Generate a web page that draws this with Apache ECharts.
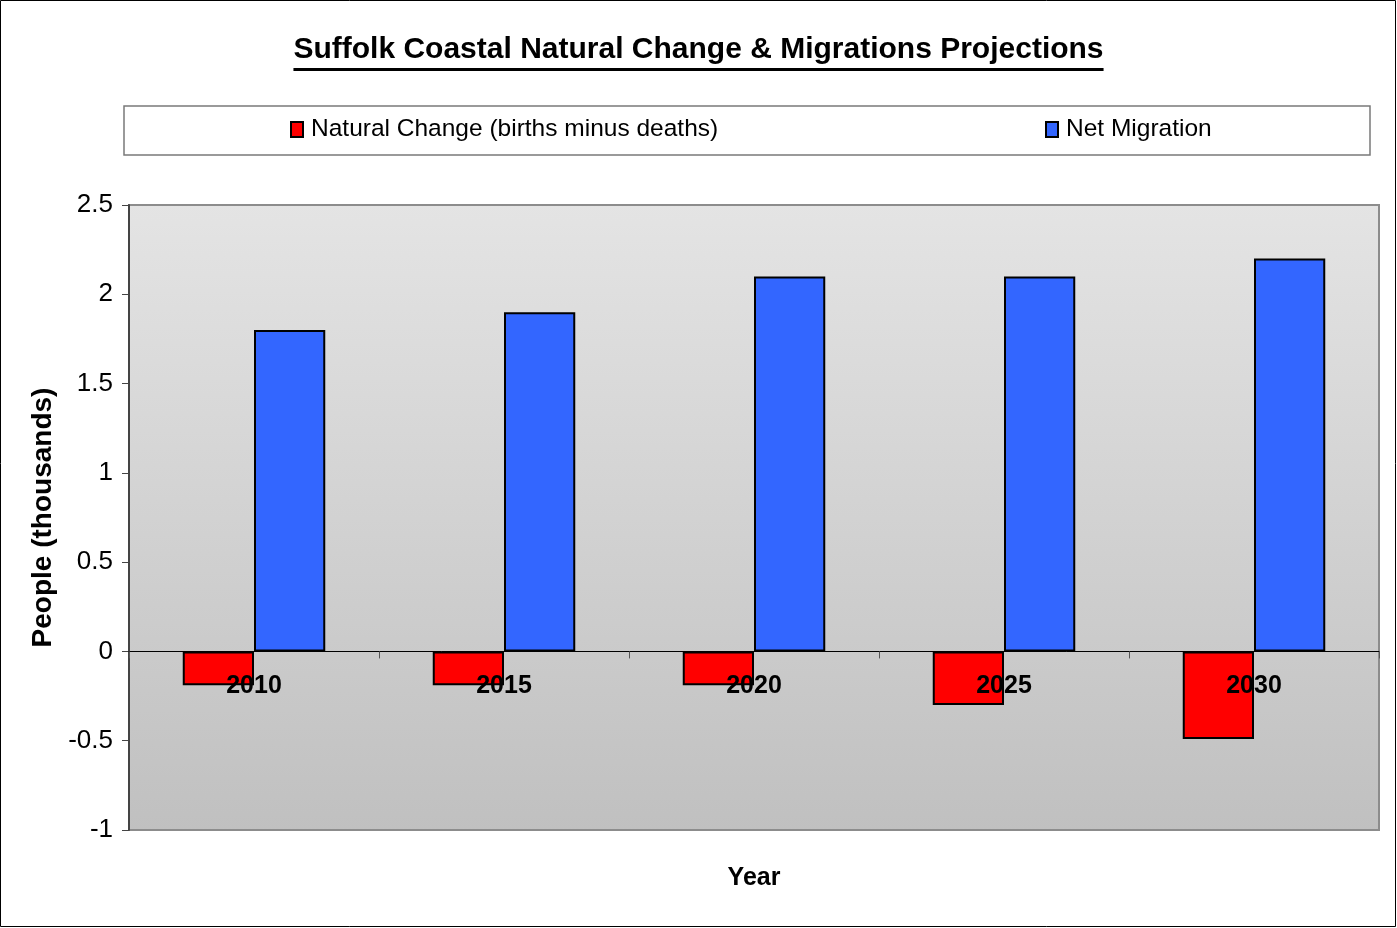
<!DOCTYPE html>
<html>
<head>
<meta charset="utf-8">
<title>Suffolk Coastal Natural Change & Migrations Projections</title>
<script src="https://cdn.jsdelivr.net/npm/echarts@6/dist/echarts.min.js"></script>
<style>
  html, body { margin: 0; padding: 0; background: #ffffff; }
  #chart { width: 1397px; height: 928px; }
</style>
</head>
<body>
<div id="chart"></div>
<script>
// Projection years and values (thousands of people)
const years = ['2010', '2015', '2020', '2025', '2030'];
const naturalChange = [-0.19, -0.19, -0.19, -0.3, -0.49];
const netMigration = [1.8, 1.9, 2.1, 2.1, 2.2];
const yTicks = { min: -1, max: 2.5, interval: 0.5 };

const titleText = 'Suffolk Coastal Natural Change & Migrations Projections';
const naturalName = 'Natural Change (births minus deaths)';
const migrationName = 'Net Migration';

const sans = '"Liberation Sans", Arial, sans-serif';

// width of the title, used for its underline
function textWidth(text, font) {
  const c = document.createElement('canvas').getContext('2d');
  c.font = font;
  return c.measureText(text).width;
}
const titleSize = 30;
const titleW = textWidth(titleText, 'bold ' + titleSize + 'px ' + sans);

const chart = echarts.init(document.getElementById('chart'), null, { renderer: 'canvas' });

chart.setOption({
  backgroundColor: '#ffffff',
  animation: false,
  title: {
    text: titleText,
    left: 'center',
    top: 35,
    padding: 0,
    textStyle: { fontFamily: sans, fontWeight: 'bold', fontSize: titleSize, color: '#000' }
  },
  legend: [
    {
      data: [naturalName],
      left: 290, top: 117, padding: 0,
      itemWidth: 12, itemHeight: 15,
      icon: 'rect',
      textStyle: { fontFamily: sans, fontSize: 24.5, color: '#000', padding: [0, 0, 0, 3] }
    },
    {
      data: [migrationName],
      left: 1045, top: 117, padding: 0,
      itemWidth: 12, itemHeight: 15,
      icon: 'rect',
      textStyle: { fontFamily: sans, fontSize: 24.5, color: '#000', padding: [0, 0, 0, 3] }
    }
  ],
  grid: {
    left: 129, right: 18, top: 205, bottom: 98,
    show: true,
    borderColor: '#8c8c8c',
    borderWidth: 2,
    backgroundColor: {
      type: 'linear', x: 0, y: 0, x2: 0, y2: 1,
      colorStops: [
        { offset: 0, color: '#e4e4e4' },
        { offset: 1, color: '#c0c0c0' }
      ]
    }
  },
  xAxis: {
    type: 'category',
    data: years,
    z: 5,
    axisLine: { onZero: true, lineStyle: { color: '#000', width: 1 } },
    axisTick: { show: true, length: 7, lineStyle: { color: '#555', width: 1 } },
    // labels sit just under the zero line, overlapping the negative bars
    axisLabel: {
      margin: -156,
      fontFamily: sans, fontWeight: 'bold', fontSize: 25, color: '#000'
    },
    splitLine: { show: false }
  },
  yAxis: {
    type: 'value',
    min: yTicks.min, max: yTicks.max, interval: yTicks.interval,
    name: 'People (thousands)',
    nameLocation: 'middle',
    nameRotate: 90,
    nameGap: 64,
    nameTextStyle: { fontFamily: sans, fontWeight: 'bold', fontSize: 28, color: '#000' },
    axisLine: { show: true, lineStyle: { color: '#444', width: 2 } },
    axisTick: { show: true, length: 7, lineStyle: { color: '#444', width: 1 } },
    axisLabel: { margin: 16, fontFamily: sans, fontSize: 26, color: '#000' },
    splitLine: { show: false }
  },
  series: [
    {
      name: naturalName,
      type: 'bar',
      data: naturalChange,
      barGap: '0%',
      barCategoryGap: '43%',
      itemStyle: { color: '#ff0000', borderColor: '#000', borderWidth: 2 }
    },
    {
      name: migrationName,
      type: 'bar',
      data: netMigration,
      barGap: '0%',
      barCategoryGap: '43%',
      itemStyle: { color: '#3366ff', borderColor: '#000', borderWidth: 2 }
    }
  ],
  graphic: [
    {
      type: 'rect', z: -1,
      shape: { x: 0.5, y: 0.5, width: 1395, height: 926 },
      style: { fill: 'none', stroke: '#000', lineWidth: 1 }
    },
    {
      type: 'rect', z: -1,
      shape: { x: 124, y: 106, width: 1246, height: 49 },
      style: { fill: '#ffffff', stroke: '#7a7a7a', lineWidth: 1.5 }
    },
    {
      type: 'rect',
      shape: { x: 698.5 - titleW / 2, y: 68, width: titleW, height: 3 },
      style: { fill: '#000' }
    },
    {
      type: 'text',
      x: 754, y: 878,
      style: {
        text: 'Year', fill: '#000',
        font: 'bold 25px ' + sans,
        textAlign: 'center', textVerticalAlign: 'middle'
      }
    }
  ]
});
</script>
</body>
</html>
